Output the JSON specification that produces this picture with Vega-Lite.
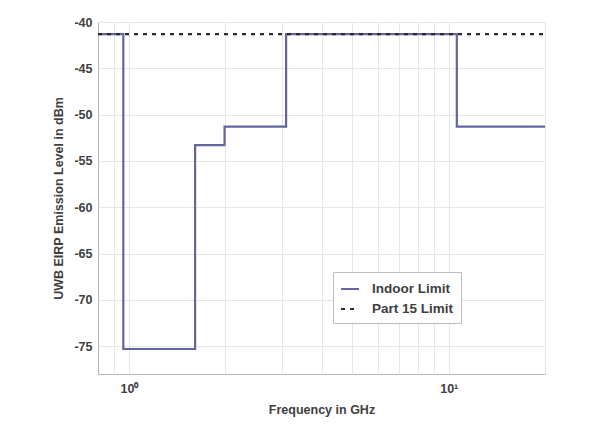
{
  "$schema": "https://vega.github.io/schema/vega-lite/v6.json",
  "autosize": {"type": "none"},
  "width": 447,
  "height": 352,
  "padding": {"left": 98, "top": 22, "right": 61, "bottom": 57},
  "background": "white",
  "config": {
    "font": "Liberation Sans",
    "view": {"stroke": "#b4b4b4", "strokeWidth": 1},
    "axis": {
      "labelFont": "Liberation Sans",
      "labelFontWeight": "bold",
      "labelFontSize": 12.5,
      "labelColor": "#404040",
      "titleFont": "Liberation Sans",
      "titleFontWeight": "bold",
      "titleFontSize": 12.5,
      "titleColor": "#404040",
      "gridColor": "#e6e6e6",
      "gridWidth": 1,
      "domainColor": "#b4b4b4",
      "tickColor": "#b4b4b4"
    }
  },
  "datasets": {
    "lines": [
      {"f": 0.8, "level": -41.3, "series": "Indoor Limit", "ord": 1},
      {"f": 0.96, "level": -75.3, "series": "Indoor Limit", "ord": 2},
      {"f": 1.61, "level": -53.3, "series": "Indoor Limit", "ord": 3},
      {"f": 1.99, "level": -51.3, "series": "Indoor Limit", "ord": 4},
      {"f": 3.1, "level": -41.3, "series": "Indoor Limit", "ord": 5},
      {"f": 10.6, "level": -51.3, "series": "Indoor Limit", "ord": 6},
      {"f": 20, "level": -51.3, "series": "Indoor Limit", "ord": 7},
      {"f": 0.8, "level": -41.3, "series": "Part 15 Limit", "ord": 1},
      {"f": 20, "level": -41.3, "series": "Part 15 Limit", "ord": 2}
    ]
  },
  "data": {"name": "lines"},
  "mark": {"type": "line", "interpolate": "step-after", "strokeWidth": 2.2, "clip": true},
  "encoding": {
    "x": {
      "field": "f",
      "type": "quantitative",
      "scale": {"type": "log", "domain": [0.8, 20], "nice": false},
      "axis": {
        "title": "Frequency in GHz",
        "values": [0.9, 1, 2, 3, 4, 5, 6, 7, 8, 9, 10, 20],
        "labelExpr": "datum.value == 1 ? '10⁰' : (datum.value == 10 ? '10¹' : '')",
        "labelPadding": 8,
        "titlePadding": 9,
        "tickSize": 0,
        "domain": false
      }
    },
    "y": {
      "field": "level",
      "type": "quantitative",
      "scale": {"domain": [-78, -40], "nice": false, "zero": false},
      "axis": {
        "title": "UWB EIRP Emission Level in dBm",
        "values": [-40, -45, -50, -55, -60, -65, -70, -75],
        "labelExpr": "datum.value + ''",
        "labelPadding": 6,
        "titlePadding": 8,
        "tickSize": 0,
        "domain": false
      }
    },
    "color": {
      "field": "series",
      "type": "nominal",
      "scale": {"domain": ["Indoor Limit", "Part 15 Limit"], "range": ["#6464a0", "#2a2a2a"]},
      "legend": {
        "title": null,
        "orient": "none",
        "legendX": 235,
        "legendY": 250,
        "direction": "vertical",
        "strokeColor": "#bdbdbd",
        "fillColor": "white",
        "padding": 7,
        "symbolType": "stroke",
        "symbolSize": 320,
        "symbolStrokeWidth": 2,
        "labelOffset": 12,
        "labelFont": "Liberation Sans",
        "labelFontWeight": "bold",
        "labelFontSize": 13.5,
        "labelColor": "#404040",
        "rowPadding": 3
      }
    },
    "strokeDash": {
      "field": "series",
      "type": "nominal",
      "scale": {"domain": ["Indoor Limit", "Part 15 Limit"], "range": [[1, 0], [4, 5]]},
      "legend": null
    },
    "order": {"field": "ord", "type": "quantitative"}
  }
}
